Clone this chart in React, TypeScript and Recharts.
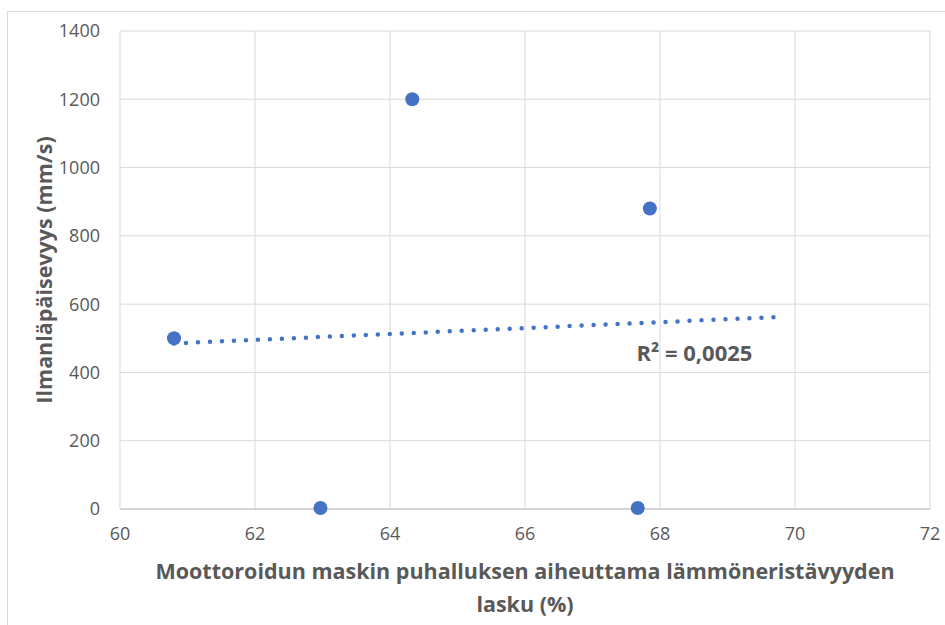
import React from 'react';
import {
  ScatterChart,
  Scatter,
  XAxis,
  YAxis,
  CartesianGrid,
  ReferenceLine,
  ReferenceDot,
} from 'recharts';

// measured points (lasku %, mm/s)
const dropPct = [60.8, 62.97, 64.33, 67.67, 67.85];
const airPerm = [500, 3, 1200, 3, 880];

// linear trendline ends as drawn in the source
const trendX = [60.8, 69.82];
const trendY = [485, 563];

const xTicks = [60, 62, 64, 66, 68, 70, 72];
const yTicks = [0, 200, 400, 600, 800, 1000, 1200, 1400];

const rSquared = 'R² = 0,0025';
const xTitle = ['Moottoroidun maskin puhalluksen aiheuttama lämmöneristävyyden', 'lasku (%)'];
const yTitle = 'Ilmanläpäisevyys (mm/s)';

const points = dropPct.map((x, i) => ({ x, y: airPerm[i] }));

const BLUE = '#4472C4';
const GREY = '#595959';
const FONT = '"Open Sans", sans-serif';

const YTitle = (props: any) => {
  const vb = props.viewBox;
  const cx = 43;
  const cy = vb.y + vb.height / 2;
  return (
    <text
      x={cx}
      y={cy}
      transform={`rotate(-90 ${cx} ${cy})`}
      textAnchor="middle"
      dominantBaseline="central"
      fill={GREY}
      fontFamily={FONT}
      fontWeight={700}
      fontSize={21.5}
    >
      {yTitle}
    </text>
  );
};

const XTitle = (props: any) => {
  const vb = props.viewBox;
  const cx = vb.x + vb.width / 2;
  return (
    <text textAnchor="middle" fill={GREY} fontFamily={FONT} fontWeight={700} fontSize={21.5}>
      <tspan x={cx} y={570} dominantBaseline="central">{xTitle[0]}</tspan>
      <tspan x={cx} y={603} dominantBaseline="central">{xTitle[1]}</tspan>
    </text>
  );
};

const RLabel = (props: any) => {
  const vb = props.viewBox;
  return (
    <text
      x={vb.x}
      y={vb.y}
      textAnchor="middle"
      dominantBaseline="central"
      fill={GREY}
      fontFamily={FONT}
      fontWeight={700}
      fontSize={22}
    >
      {rSquared}
    </text>
  );
};

const Dot = (props: any) => <circle cx={props.cx} cy={props.cy} r={7} fill={BLUE} />;

export default function App() {
  return (
    <div style={{ position: 'absolute', left: 0, top: 0, width: 945, height: 625, background: '#fff', overflow: 'hidden' }}>
      <div
        style={{
          position: 'absolute',
          left: 7,
          top: 11,
          width: 1000,
          height: 700,
          borderLeft: '1px solid #D9D9D9',
          borderTop: '1px solid #D9D9D9',
        }}
      />
      <ScatterChart
        width={945}
        height={625}
        margin={{ top: 31, right: 15, bottom: 0, left: 0 }}
        style={{ position: 'absolute', left: 0, top: 0 }}
      >
        <CartesianGrid stroke="#D9D9D9" />
        <XAxis
          type="number"
          dataKey="x"
          domain={[60, 72]}
          ticks={xTicks}
          height={116}
          tickLine={false}
          tickSize={0}
          tickMargin={18}
          axisLine={{ stroke: '#BFBFBF' }}
          tick={{ fill: GREY, fontSize: 18, fontFamily: FONT }}
          label={<XTitle />}
        />
        <YAxis
          type="number"
          dataKey="y"
          domain={[0, 1400]}
          ticks={yTicks}
          width={120}
          tickLine={false}
          tickSize={0}
          tickMargin={20}
          axisLine={false}
          tick={{ fill: GREY, fontSize: 18, fontFamily: FONT }}
          label={<YTitle />}
        />
        <ReferenceLine
          segment={[
            { x: trendX[0], y: trendY[0] },
            { x: trendX[1], y: trendY[1] },
          ]}
          stroke={BLUE}
          strokeWidth={4.5}
          strokeDasharray="0 12"
          strokeLinecap="round"
          ifOverflow="visible"
        />
        <Scatter data={points} fill={BLUE} shape={Dot} isAnimationActive={false} />
        <ReferenceDot x={68.51} y={460} r={0} stroke="none" fill="none" label={<RLabel />} ifOverflow="visible" />
      </ScatterChart>
    </div>
  );
}
